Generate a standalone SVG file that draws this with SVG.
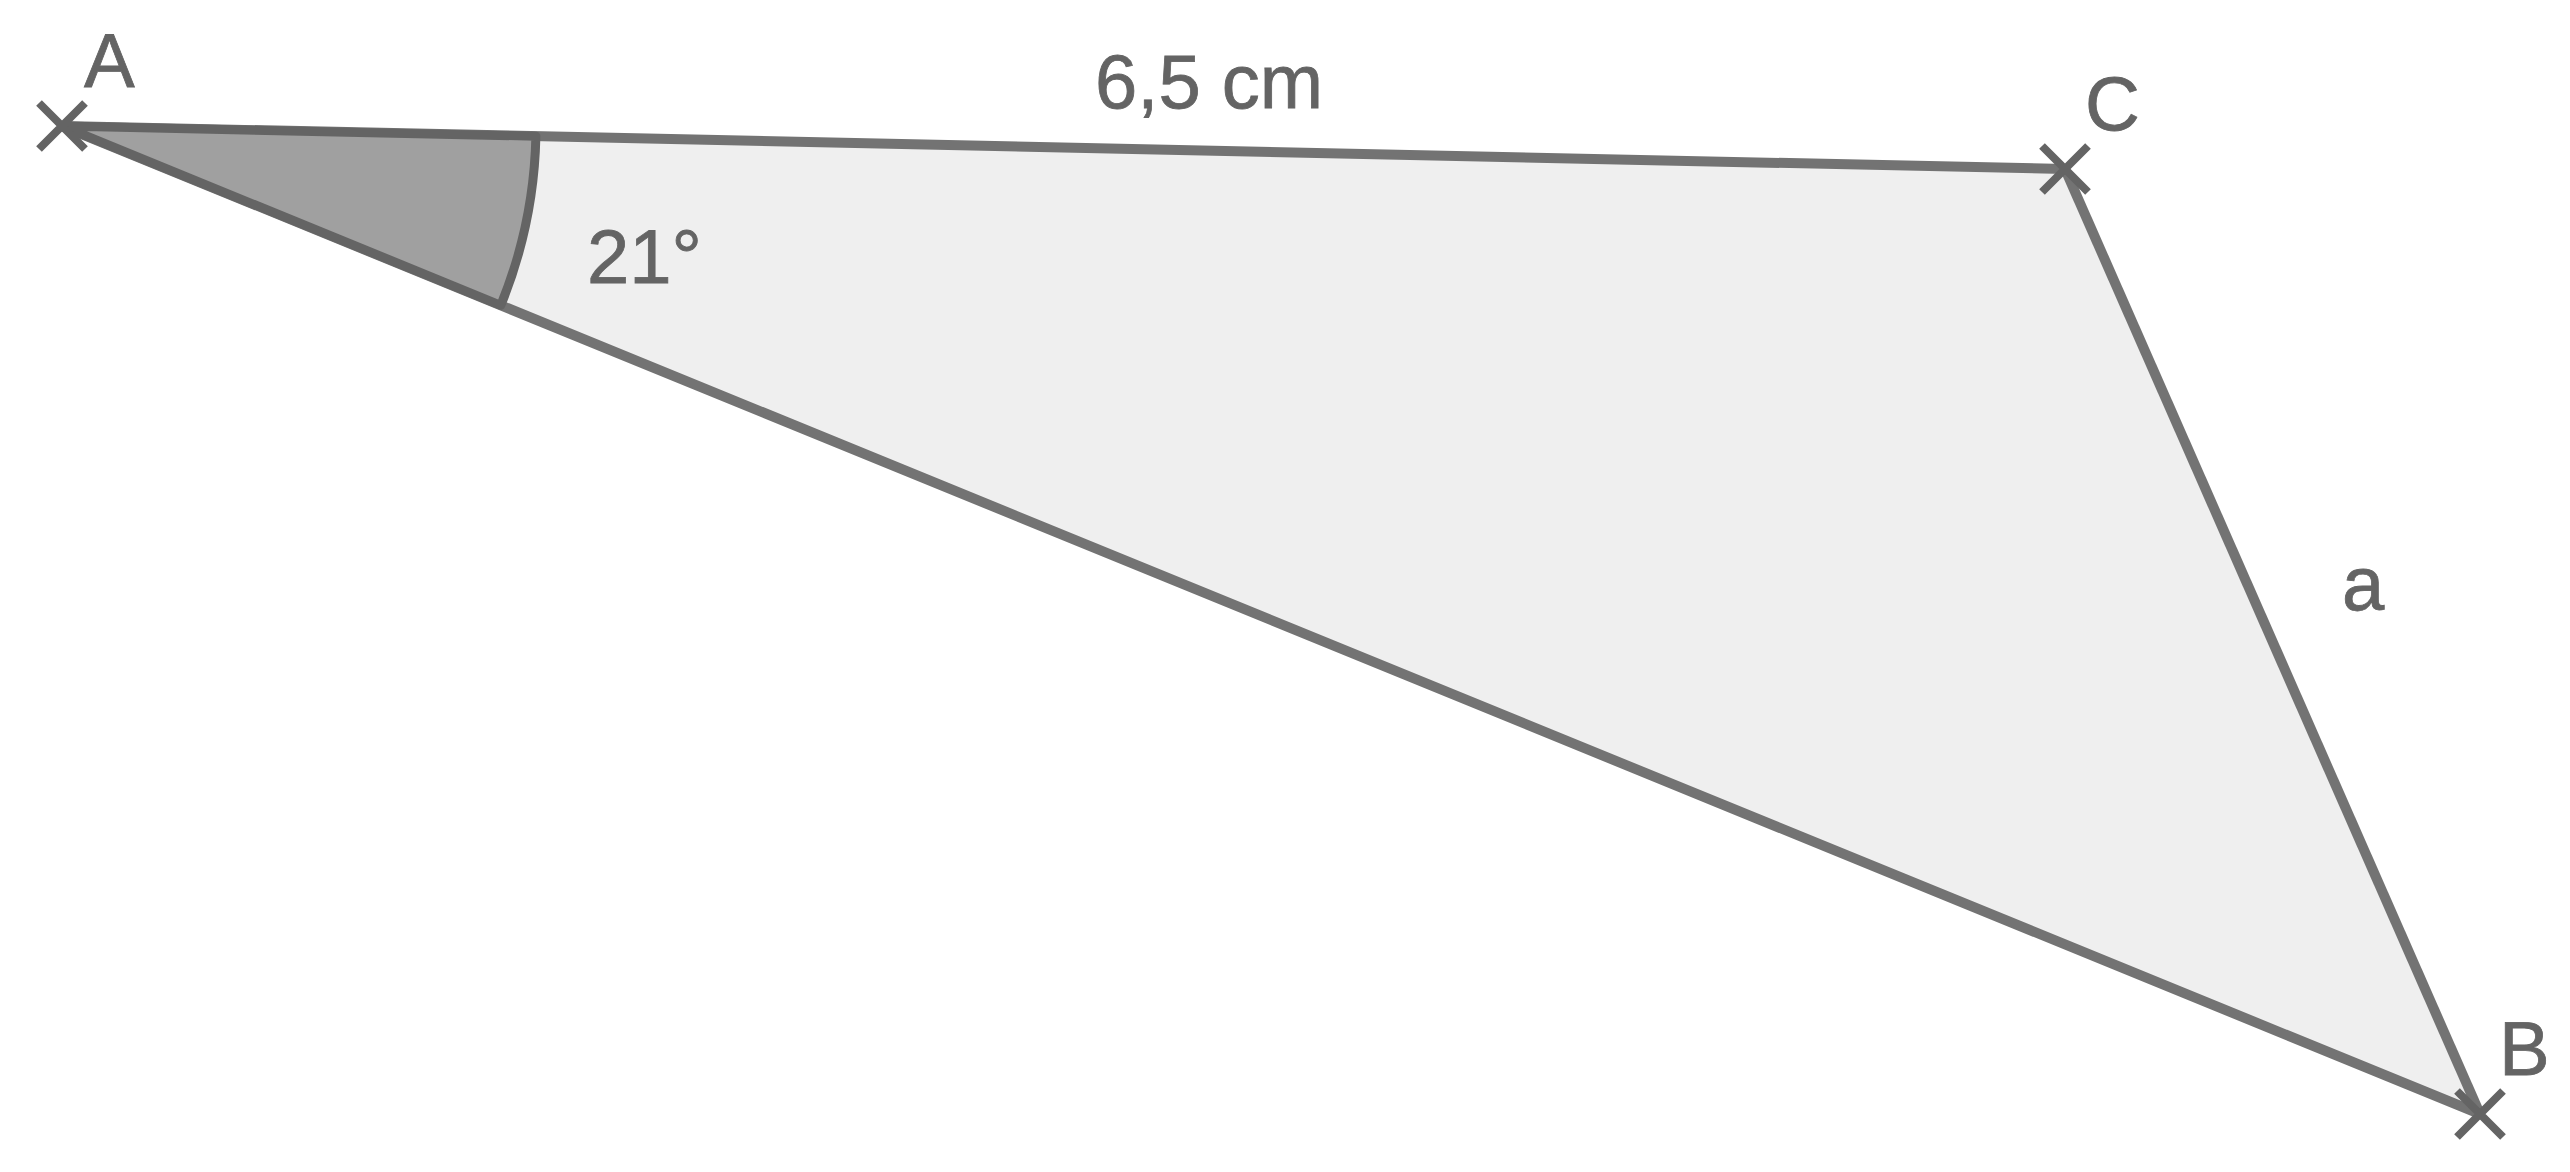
<svg xmlns="http://www.w3.org/2000/svg" width="2570" height="1172" viewBox="0 0 2570 1172">
<style>
.side{stroke:#737373;stroke-width:10;fill:none;stroke-linecap:round}
.cross{stroke:#646464;stroke-width:8;fill:none}
.lbl{font-family:"Liberation Sans",Arial,sans-serif;font-size:76px;fill:#646464;stroke:#646464;stroke-width:0.8}
</style>
<defs>
<g id="x"><path d="M-23,-23L23,23M23,-23L-23,23"/></g>
</defs>
<rect width="2570" height="1172" fill="#ffffff"/>
<g id="triangle">
<polygon points="62,126 2065,169 2480,1114" fill="#efefef" stroke="none"/>
</g>
<g id="connectors">
<line id="side-AC" class="side" x1="62" y1="126" x2="2065" y2="169"/>
<line id="side-CB" class="side" x1="2065" y1="169" x2="2480" y2="1114"/>
<line id="side-AB" class="side" x1="62" y1="126" x2="2480" y2="1114"/>
</g>
<g id="angle-A">
<path d="M62,126 L535.9,136.2 A474,474 0 0 1 500.8,305.3 Z" fill="#a0a0a0" stroke="#646464" stroke-width="9" stroke-linejoin="round"/>
<text class="lbl" x="587" y="283">21°</text>
</g>
<g id="node-A">
<use href="#x" class="cross" x="62" y="126"/>
<text class="lbl" x="84" y="87">A</text>
</g>
<g id="node-C">
<use href="#x" class="cross" x="2065" y="169"/>
<text class="lbl" x="2085" y="130">C</text>
</g>
<g id="node-B">
<use href="#x" class="cross" x="2480" y="1114"/>
<text class="lbl" x="2499" y="1075">B</text>
</g>
<g id="labels">
<text class="lbl" x="1095" y="108">6,5 cm</text>
<text class="lbl" x="2342" y="610">a</text>
</g>
</svg>
